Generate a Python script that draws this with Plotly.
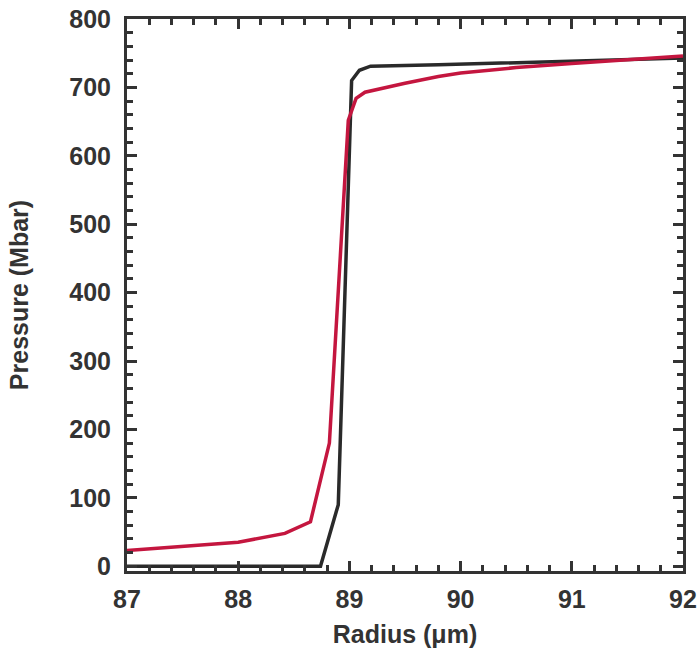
import plotly.graph_objects as go

# radius (um) and pressure (Mbar)
radius_black = [87.0, 88.0, 88.74, 88.9, 89.02, 89.09, 89.19, 89.8, 90.5, 91.2, 92.0]
pressure_black = [0, 0, 0, 90, 710, 725, 731, 733, 736, 739, 743]

radius_red = [87.0, 87.5, 88.0, 88.42, 88.65, 88.82, 88.99, 89.06, 89.14, 89.5, 89.8,
              90.0, 90.5, 91.0, 91.5, 92.0]
pressure_red = [23, 29, 35, 48, 65, 180, 652, 684, 693, 706, 716,
                721, 729, 735, 740, 746]

xticks = [87, 88, 89, 90, 91, 92]
yticks = [0, 100, 200, 300, 400, 500, 600, 700, 800]

axis_col = "#333333"
font_fam = "Liberation Sans, Arial, sans-serif"

fig = go.Figure()
fig.add_trace(go.Scatter(x=radius_black, y=pressure_black, mode="lines",
                         line=dict(color="#2a2a2a", width=3.5), showlegend=False))
fig.add_trace(go.Scatter(x=radius_red, y=pressure_red, mode="lines",
                         line=dict(color="#c4163f", width=3.5), showlegend=False))

axis_common = dict(
    showgrid=False, zeroline=False, automargin=False,
    showline=True, linecolor=axis_col, linewidth=3, mirror="ticks",
    ticks="inside", ticklen=10, tickwidth=2.5, tickcolor=axis_col,
    tickfont=dict(family=font_fam, size=25, color=axis_col, weight="bold"),
)

fig.update_xaxes(range=[87, 92], tickvals=xticks, ticklabelstandoff=4,
                 minor=dict(dtick=0.2, ticks="inside", ticklen=6, tickwidth=2.5, tickcolor=axis_col),
                 title=dict(text="Radius (μm)", standoff=14,
                            font=dict(family=font_fam, size=25, color=axis_col, weight="bold")),
                 **axis_common)
fig.update_yaxes(range=[-7, 800], tickvals=yticks, ticklabelstandoff=8,
                 minor=dict(dtick=20, ticks="inside", ticklen=6, tickwidth=2.5, tickcolor=axis_col),
                 title=dict(text="Pressure (Mbar)", standoff=34,
                            font=dict(family=font_fam, size=25, color=axis_col, weight="bold")),
                 **axis_common)

fig.update_layout(
    width=700, height=661,
    margin=dict(l=127, r=17, t=19, b=90),
    plot_bgcolor="white", paper_bgcolor="white",
    font=dict(family=font_fam),
)

# page body has an 8px default margin, drop it so the figure fills the window
fig.write_html("out.html", config={"displayModeBar": False},
               post_script="document.body.style.margin='0';")
